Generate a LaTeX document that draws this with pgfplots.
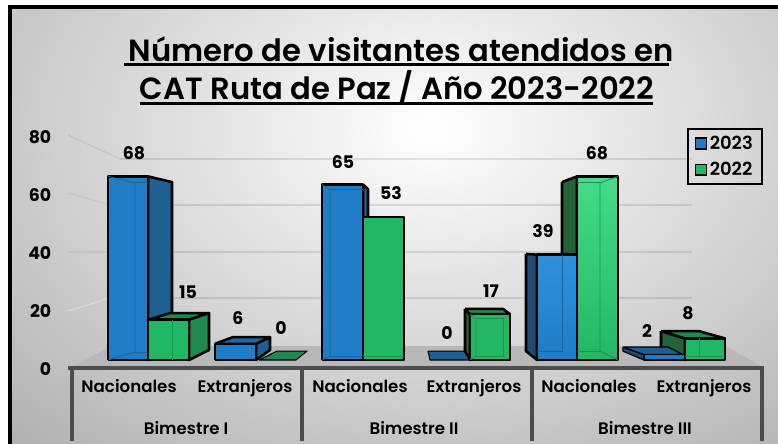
\documentclass[border=0pt]{standalone}
\usepackage{fontspec}
\setmainfont{Poppins}[BoldFont={Poppins SemiBold}]
\newfontfamily\numf{Poppins}[UprightFont={* Bold}]
\usepackage{pgfplots}
\pgfplotsset{compat=1.18}
\definecolor{bl}{HTML}{1F7CC6}
\definecolor{blt}{HTML}{3090DC}
\definecolor{bls}{HTML}{1F5F92}
\definecolor{bll}{HTML}{1F4C75}
\definecolor{gr}{HTML}{22B765}
\definecolor{grt}{HTML}{44DC88}
\definecolor{grs}{HTML}{1F8A4E}
\definecolor{grl}{HTML}{246338}
\pgfplotsset{
  face/.style={forget plot,mark=none,draw=black,line width=1.9pt,line join=round},
  inl/.style={forget plot,mark=none,line width=.6pt},
}
\begin{document}
\begin{tikzpicture}
\begin{scope}[x=.75pt,y=-.75pt]
\path[use as bounding box] (0,0) rectangle (778,443);
\begin{scope}
\clip (8,5) rectangle (782,447);
\fill[black!30] (8,5) rectangle (782,447);
\shade[inner color=white,outer color=black!30,shading=radial] (430,130) ellipse [x radius=600,y radius=420];
\end{scope}
\draw[black,line width=3pt] (9.5,447) -- (9.5,7) -- (782,7);
% back wall grid
\foreach \yy in {159,205,252,298}{\draw[black,opacity=.1,line width=1.5pt] (120,\yy) -- (692,\yy);}
\draw[black,opacity=.07,line width=1pt] (68,135)--(120,159);
\draw[black,opacity=.05,line width=1pt] (68,193)--(110,205);
\draw[black,opacity=.05,line width=1pt] (68,252)--(110,252);
\draw[white,opacity=.3,line width=1pt] (68,311)--(110,298);
% floor
\fill[black!28] (70,368) -- (112,346) -- (725,346) -- (765,368) -- cycle;
% axis frame
\draw[black!70,line width=2.4pt] (68,368) -- (764,368);
\foreach \xx in {72,302,532,762}{\draw[black!70,line width=2.4pt] (\xx,368) -- (\xx,441);}
% title
\node[font=\fontsize{23pt}{26pt}\selectfont\bfseries,anchor=base] at (401,61) {Número de visitantes atendidos en};
\node[font=\fontsize{23pt}{26pt}\selectfont\bfseries,anchor=base] at (397,99) {CAT Ruta de Paz / Año 2023-2022};
\draw[line width=1.6pt] (124,64.5) -- (669,64.5);
\draw[line width=1.6pt] (140,103.5) -- (653,103.5);
% group labels
\foreach \xx/\tt in {186/Bimestre I,414/Bimestre II,645/Bimestre III}{
  \node[font=\fontsize{12.5pt}{14pt}\selectfont\bfseries] at (\xx,428) {\tt};}
\end{scope}

% y tick labels
\begin{axis}[at={(0pt,-332.25pt)},anchor=south west,scale only axis,
  width=583.5pt,height=332.25pt,xmin=0,xmax=778,ymin=-25.517,ymax=127.24,
  axis line style={draw=none},tick style={draw=none},xtick=\empty,
  ytick={0,20,40,60,80},
  /pgf/number format/assume math mode=true,
  yticklabel style={font=\fontsize{13pt}{15pt}\selectfont\numf,xshift=42pt},
]
\end{axis}

\begin{axis}[at={(0pt,-332.25pt)},anchor=south west,scale only axis,
  width=583.5pt,height=332.25pt,xmin=0,xmax=778,ymin=-30.74,ymax=133.33,
  axis line style={draw=none},tick style={draw=none},clip=false,
  ytick=\empty,
  xtick={129,245,360,474,589,704},
  xticklabels={Nacionales,Extranjeros,Nacionales,Extranjeros,Nacionales,Extranjeros},
  xticklabel style={font=\fontsize{12.5pt}{14pt}\selectfont\bfseries,anchor=base,yshift=38pt},
  legend style={at={(0.883,0.711)},anchor=north west,draw=black,line width=1.8pt,fill=none,
    font=\fontsize{13.5pt}{15pt}\selectfont\bfseries,inner xsep=5pt,inner ysep=3pt,row sep=4pt,
    /tikz/every even column/.style={column sep=1pt}},
  legend image code/.code={\draw[#1,line width=1.2pt] (0pt,-4pt) rectangle (8pt,4pt);},
  legend cell align=left,
]
% Bimestre I Nacionales
\addplot[face,fill=bls] coordinates {(148,68)(172,65.9)(172,3.7)(148,0)(148,68)};
\addplot[face,top color=bl,bottom color=bl] coordinates {(108,0)(108,68)(148,68)(148,0)(108,0)};
\addplot[inl,draw=bl!80!black] coordinates {(108,68)(135,65.6)(135,3)(108,0)};
\addplot[inl,draw=bl!80!black] coordinates {(135,65.6)(148,65.6)};
\addplot[inl,draw=bl!80!black] coordinates {(135,3)(148,3)};
\addplot[face,fill=grs] coordinates {(189,15)(209,17.4)(209,3.7)(189,0)(189,15)};
\addplot[face,fill=grs] coordinates {(149,15)(170,17.4)(209,17.4)(189,15)(149,15)};
\addplot[face,fill=gr] coordinates {(148,0)(148,15)(189,15)(189,0)(148,0)};
\addplot[inl,draw=gr!80!black] coordinates {(172,0)(172,15)};
% Bimestre I Extranjeros
\addplot[face,fill=bls] coordinates {(256,6)(270,8.5)(270,3.7)(256,0)(256,6)};
\addplot[face,fill=bl!85!black] coordinates {(215,6)(233,8.5)(270,8.5)(256,6)(215,6)};
\addplot[face,fill=bl] coordinates {(215,0)(215,6)(256,6)(256,0)(215,0)};
\addplot[face,fill=grs,line width=.8pt] coordinates {(259,0)(277,3.3)(307,3.3)(296,0)(259,0)};
% Bimestre II Nacionales
\addplot[face,fill=bls] coordinates {(363,65)(368,63.3)(368,50)(363,50)(363,65)};
\addplot[face,fill=bl] coordinates {(322,0)(322,65)(363,65)(363,0)(322,0)};
\addplot[inl,draw=bl!80!black] coordinates {(322,65)(330,63.3)(330,1.5)(322,0)};
\addplot[inl,draw=bl!80!black] coordinates {(330,63.3)(363,63.3)};
\addplot[inl,draw=bl!80!black] coordinates {(330,1.5)(363,1.5)};
\addplot[face,fill=gr] coordinates {(363,0)(363,53)(404,53)(404,0)(363,0)};
\addplot[inl,draw=gr!80!black] coordinates {(363,1.5)(404,1.5)};
% Bimestre II Extranjeros
\addplot[face,fill=bls,line width=.8pt] coordinates {(428,3.3)(467,3.3)(470,0)(430,0)(428,3.3)};
\addplot[face,fill=grl] coordinates {(465,18.9)(470,17)(470,0)(465,3.3)(465,18.9)};
\addplot[face,fill=grs] coordinates {(465,18.9)(503,18.9)(510,17)(470,17)(465,18.9)};
\addplot[face,fill=gr] coordinates {(470,0)(470,17)(510,17)(510,0)(470,0)};
\addplot[inl,draw=gr!80!black] coordinates {(470,17)(476,15.4)(476,1.5)(470,0)};
\addplot[inl,draw=gr!80!black] coordinates {(476,15.4)(503,15.4)(503,1.5)(476,1.5)};
% Bimestre III Nacionales
\addplot[face,fill=grl] coordinates {(562,65.9)(577,68)(577,39)(562,39)(562,65.9)};
\addplot[face,fill=bll] coordinates {(526,39.3)(537,39)(537,0)(526,3.3)(526,39.3)};
\addplot[face,top color=blt,bottom color=bl] coordinates {(537,0)(537,39)(577,39)(577,0)(537,0)};
\addplot[inl,draw=bl!80!black] coordinates {(562,39)(562,3.3)(537,3.3)};
\addplot[face,top color=grt,bottom color=gr] coordinates {(577,0)(577,68)(618,68)(618,0)(577,0)};
\addplot[inl,draw=gr!80!black] coordinates {(618,68)(600,65.6)(600,3.3)(618,0)};
\addplot[inl,draw=gr!80!black] coordinates {(577,65.6)(600,65.6)};
\addplot[inl,draw=gr!80!black] coordinates {(577,3.3)(600,3.3)};
% Bimestre III Extranjeros
\addplot[face,fill=grl] coordinates {(661,10.7)(685,8)(685,0)(661,3.3)(661,10.7)};
\addplot[face,fill=bll,line width=1pt] coordinates {(623,4.8)(644,2)(644,0)(623,3.3)(623,4.8)};
\addplot[face,fill=bls,line width=1pt] coordinates {(623,4.8)(668,4.8)(683,2)(644,2)(623,4.8)};
\addplot[face,fill=bl,line width=1pt] coordinates {(644,0)(644,2)(685,2)(685,0)(644,0)};
\addplot[face,fill=grs] coordinates {(661,10.7)(699,10.7)(725,8)(685,8)(661,10.7)};
\addplot[face,fill=gr] coordinates {(685,0)(685,8)(725,8)(725,0)(685,0)};
\addplot[inl,draw=gr!80!black] coordinates {(699,8)(699,1.5)};
\addplot[inl,draw=gr!80!black] coordinates {(685,1.5)(725,1.5)};
% value labels
\addplot[forget plot,draw=none,mark=none,nodes near coords,point meta=explicit symbolic,
  every node near coord/.style={anchor=center,font=\fontsize{13pt}{15pt}\selectfont\numf,inner sep=0pt}]
 table[meta=lab,row sep=crcr]{
 x y lab\\
 134 76.7 68\\
 188 25.2 15\\
 238 15.6 6\\
 281 11.9 0\\
 343 73.3 65\\
 391 61.9 53\\
 447 10.0 0\\
 491 25.6 17\\
 543 47.8 39\\
 597 76.7 68\\
 647 10.7 2\\
 688 17.4 8\\
 };
\addlegendimage{fill=bl,draw=black}
\addlegendentry{2023}
\addlegendimage{fill=gr,draw=black}
\addlegendentry{2022}
\end{axis}
\end{tikzpicture}
\end{document}
